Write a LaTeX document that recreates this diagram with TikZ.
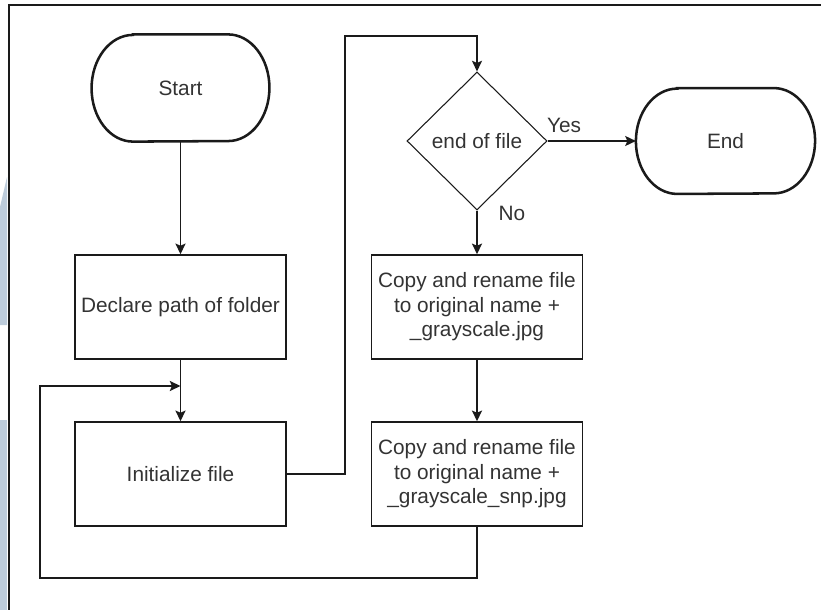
\documentclass[tikz,border=0pt]{standalone}
\usepackage{fontspec}
\setmainfont{Liberation Sans}
\usetikzlibrary{shapes.geometric,arrows.meta}
\definecolor{txt}{HTML}{333333}
\definecolor{ink}{HTML}{1A1A1A}
\definecolor{band}{RGB}{189,204,219}
\tikzset{
  every node/.style={font=\fontsize{15.6pt}{18.4pt}\selectfont, text=txt},
  term/.style={minimum width=133pt, minimum height=80pt, inner sep=0pt},
  termline/.style={draw=ink, line width=1.9pt},
  procbox/.style={draw=ink, line width=1.1pt, minimum width=158pt,
    minimum height=78pt, inner sep=0pt, align=center},
  decision/.style={diamond, draw=ink, line width=0.8pt, minimum width=105pt,
    minimum height=103.5pt, inner sep=0pt},
  flow/.style={draw=ink, line width=1.25pt,
    -{Stealth[length=8pt, width=7.5pt, inset=1.6pt]}},
  lbl/.style={inner sep=0pt}
}
% outline of a terminal node with elliptic ends
\newcommand\termoutline[3]{%
  \draw[termline] ([xshift=#2]#1.north west) -- ([xshift=-#2]#1.north east)
    arc[start angle=90, end angle=-90, x radius=#2, y radius=#3]
    -- ([xshift=#2]#1.south west)
    arc[start angle=270, end angle=90, x radius=#2, y radius=#3] -- cycle;}
\begin{document}
\begin{tikzpicture}[x=0.75pt, y=-0.75pt]
  \useasboundingbox (0,0) rectangle (821,610);
  % light band along the left edge
  \fill[band] (0,207) -- (7,177) -- (7,325) -- (0,325) -- cycle;
  \fill[band] (0,420) rectangle (7,610);
  % page frame (top and left edges)
  \draw[ink, line width=1.7pt] (821,5) -- (9,5) -- (9,610);

  % nodes
  \node[term] (start) at (180.5,88) {Start};
  \termoutline{start}{31pt}{40pt}
  \node[procbox] (declare) at (180.5,307) {Declare path of folder};
  \node[procbox] (init) at (180.5,474) {Initialize file};
  \node[decision] (eof) at (477,141) {end of file};
  \node[term, minimum width=134pt, minimum height=79pt] (end) at (725.5,141) {End};
  \termoutline{end}{31pt}{39.5pt}
  \node[procbox] (copyA) at (477,307) {Copy and rename file\\to original name +\\\_grayscale.jpg};
  \node[procbox] (copyB) at (477,474) {Copy and rename file\\to original name +\\\_grayscale\_snp.jpg};

  % branch labels
  \node[lbl] (yes) at (564,125) {Yes};
  \node[lbl] (no) at (512,213) {No};

  % routing points
  \coordinate (up) at (345,36);
  \coordinate (back) at (40,578);
  \coordinate (merge) at (180.5,386);

  % connectors
  \draw[flow] (start) -- (declare);
  \draw[flow] (declare) -- (init);
  \draw[flow] (init.east) -| (up) -| (eof.north);
  \draw[flow] (eof.east) -- (end.west);
  \draw[flow] (eof.south) -- (copyA.north);
  \draw[flow] (copyA) -- (copyB);
  \draw[flow] (copyB.south) |- (back) |- (merge);
\end{tikzpicture}
\end{document}
